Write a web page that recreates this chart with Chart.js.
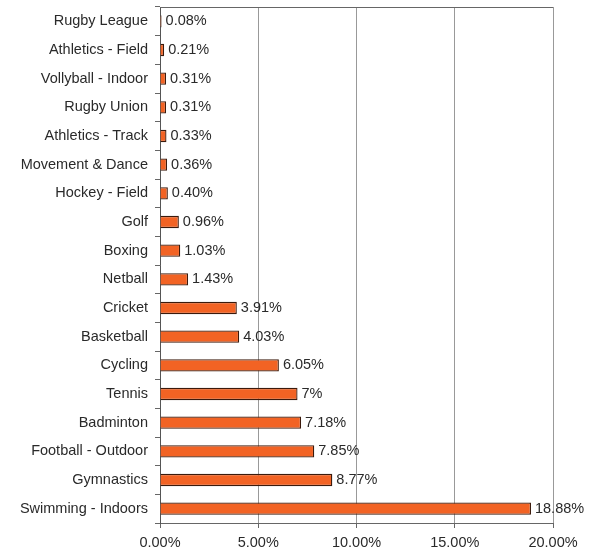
<!DOCTYPE html>
<html>
<head>
<meta charset="utf-8">
<script src="https://cdn.jsdelivr.net/npm/chart.js@4.4.0/dist/chart.umd.min.js"></script>
<style>
  html, body { margin: 0; padding: 0; background: #fff; }
  #wrap { width: 598px; height: 549px; }
</style>
</head>
<body>
<div id="wrap"><canvas id="chart" width="598" height="549"></canvas></div>
<script>
var sports = ['Rugby League', 'Athletics - Field', 'Vollyball - Indoor', 'Rugby Union',
    'Athletics - Track', 'Movement & Dance', 'Hockey - Field', 'Golf', 'Boxing', 'Netball',
    'Cricket', 'Basketball', 'Cycling', 'Tennis', 'Badminton', 'Football - Outdoor',
    'Gymnastics', 'Swimming - Indoors'];
var shares = [0.08, 0.21, 0.31, 0.31, 0.33, 0.36, 0.40, 0.96, 1.03, 1.43,
    3.91, 4.03, 6.05, 7, 7.18, 7.85, 8.77, 18.88];
var shareLabels = ['0.08%', '0.21%', '0.31%', '0.31%', '0.33%', '0.36%', '0.40%', '0.96%', '1.03%', '1.43%',
    '3.91%', '4.03%', '6.05%', '7%', '7.18%', '7.85%', '8.77%', '18.88%'];
var xTicks = [0, 5, 10, 15, 20];

var font = {family: '"Liberation Sans", Arial, sans-serif', size: 14.5};

// value labels next to each bar + top border of plot
var valueLabels = {
    id: 'valueLabels',
    afterDatasetsDraw: function(chart) {
        var ctx = chart.ctx;
        var meta = chart.getDatasetMeta(0);
        ctx.save();
        ctx.font = font.size + 'px ' + font.family;
        ctx.fillStyle = '#2a2a2a';
        ctx.textBaseline = 'middle';
        meta.data.forEach(function(bar, i) {
            ctx.fillText(shareLabels[i], bar.x + 4, bar.y);
        });
        var a = chart.chartArea;
        ctx.strokeStyle = '#666';
        ctx.lineWidth = 1;
        ctx.beginPath();
        ctx.moveTo(a.left, a.top + 0.5);
        ctx.lineTo(a.right, a.top + 0.5);
        ctx.stroke();
        ctx.restore();
    }
};

var ctx = document.getElementById('chart').getContext('2d');
var chart = new Chart(ctx, {
    type: 'bar',
    data: {
        labels: sports,
        datasets: [{
            data: shares,
            backgroundColor: '#f26324',
            borderColor: '#3b1a0c',
            borderWidth: 1.3,
            borderSkipped: 'start',
            barPercentage: 0.43,
            categoryPercentage: 1
        }]
    },
    options: {
        indexAxis: 'y',
        responsive: false,
        animation: false,
        layout: {padding: {left: 0, right: 45, top: 7, bottom: 0}},
        plugins: {legend: {display: false}, tooltip: {enabled: false}},
        scales: {
            x: {
                min: 0,
                max: 20,
                afterBuildTicks: function(scale) {
                    scale.ticks = xTicks.map(function(v) { return {value: v}; });
                },
                afterFit: function(scale) { scale.height = 26; },
                grid: {color: '#999', lineWidth: 1, tickLength: 5, tickColor: '#666'},
                border: {color: '#666'},
                ticks: {
                    color: '#2a2a2a',
                    font: font,
                    padding: 6,
                    maxRotation: 0,
                    callback: function(v) { return v.toFixed(2) + '%'; }
                }
            },
            y: {
                afterFit: function(scale) {
                    scale.width = 160;
                    scale.paddingTop = 0;
                    scale.paddingBottom = 0;
                },
                grid: {drawOnChartArea: false, tickLength: 5, tickColor: '#666'},
                border: {color: '#555'},
                ticks: {color: '#2a2a2a', font: font, padding: 7}
            }
        }
    },
    plugins: [valueLabels]
});
</script>
</body>
</html>
